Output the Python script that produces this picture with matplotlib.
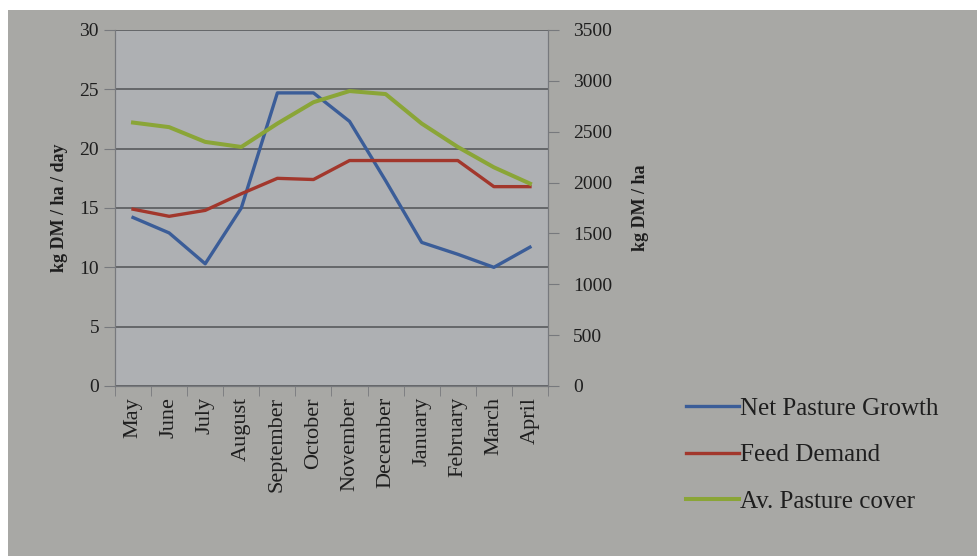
import numpy as np
import matplotlib
matplotlib.use("Agg")
import matplotlib.pyplot as plt
from matplotlib.patches import Rectangle

# === DATA ===
months = ["May", "June", "July", "August", "September", "October",
          "November", "December", "January", "February", "March", "April"]
net_growth = [14.2, 12.9, 10.3, 15.0, 24.7, 24.7, 22.3, 17.3, 12.1, 11.1, 10.0, 11.7]
feed_demand = [14.9, 14.3, 14.8, 16.2, 17.5, 17.4, 19.0, 19.0, 19.0, 19.0, 16.8, 16.8]
pasture_cover = [2590, 2545, 2400, 2350, 2580, 2790, 2900, 2870, 2580, 2350, 2150, 1990]

left_ticks = [0, 5, 10, 15, 20, 25, 30]
right_ticks = [0, 500, 1000, 1500, 2000, 2500, 3000, 3500]

# === STYLE ===
paper = "#a8a8a5"
plot_bg = "#aeb0b3"
grid_col = "#64666a"
ink = "#1e1e1e"
c_blue = "#3b5d98"
c_red = "#a2372c"
c_green = "#8aa537"
serif = "Liberation Serif"

W, H = 978, 556
fig = plt.figure(figsize=(W / 100, H / 100), dpi=100)
fig.patch.set_facecolor("white")
fig.patches.append(Rectangle((8 / W, 0), 1, 1 - 10 / H, transform=fig.transFigure,
                             facecolor=paper, edgecolor="none", zorder=-10))

ax = fig.add_axes([115 / W, 1 - 386 / H, (548 - 115) / W, (386 - 30) / H])
ax.set_facecolor(plot_bg)
ax2 = ax.twinx()

x = np.arange(len(months))
l1, = ax.plot(x, net_growth, color=c_blue, lw=2.4, label="Net Pasture Growth")
l2, = ax.plot(x, feed_demand, color=c_red, lw=2.4, label="Feed Demand")
l3, = ax2.plot(x, pasture_cover, color=c_green, lw=2.9, label="Av. Pasture cover")

# left axis (daily growth / demand)
ax.set_ylim(0, 30)
ax.set_yticks(left_ticks)
ax.yaxis.grid(True, color=grid_col, lw=1.4)
ax.set_axisbelow(True)
ax.set_ylabel("kg DM / ha / day", family=serif, fontweight="bold",
              fontsize=13, color=ink, labelpad=8)

# right axis (pasture cover)
ax2.set_ylim(0, 3500)
ax2.set_yticks(right_ticks)
ax2.set_ylabel("kg DM / ha", family=serif, fontweight="bold",
               fontsize=13, color=ink, labelpad=14)

# categories sit between tick marks
ax.set_xlim(-0.5, len(months) - 0.5)
ax.set_xticks(x)
ax.set_xticklabels(months, rotation=90, family=serif, fontsize=16, color=ink)
ax.set_xticks(np.arange(-0.5, len(months)), minor=True)
ax.tick_params(axis="x", which="major", length=0, pad=8)
ax.tick_params(axis="x", which="minor", length=7, color="#77797d")

for a in (ax, ax2):
    for s in a.spines.values():
        s.set_color("#77797d")
    a.spines["top"].set_visible(False)
    a.tick_params(axis="y", labelsize=14, colors=ink, length=8, color="#77797d")
    for t in a.get_yticklabels():
        t.set_family(serif)
ax2.tick_params(axis="y", pad=10)

fig.legend(handles=[l1, l2, l3], loc="upper left", bbox_to_anchor=(664 / W, 1 - 375 / H),
           frameon=False, prop={"family": serif, "size": 18},
           handlelength=2.1, handletextpad=0.05, labelspacing=0.95, labelcolor=ink)

fig.savefig("out.png", dpi=100)
